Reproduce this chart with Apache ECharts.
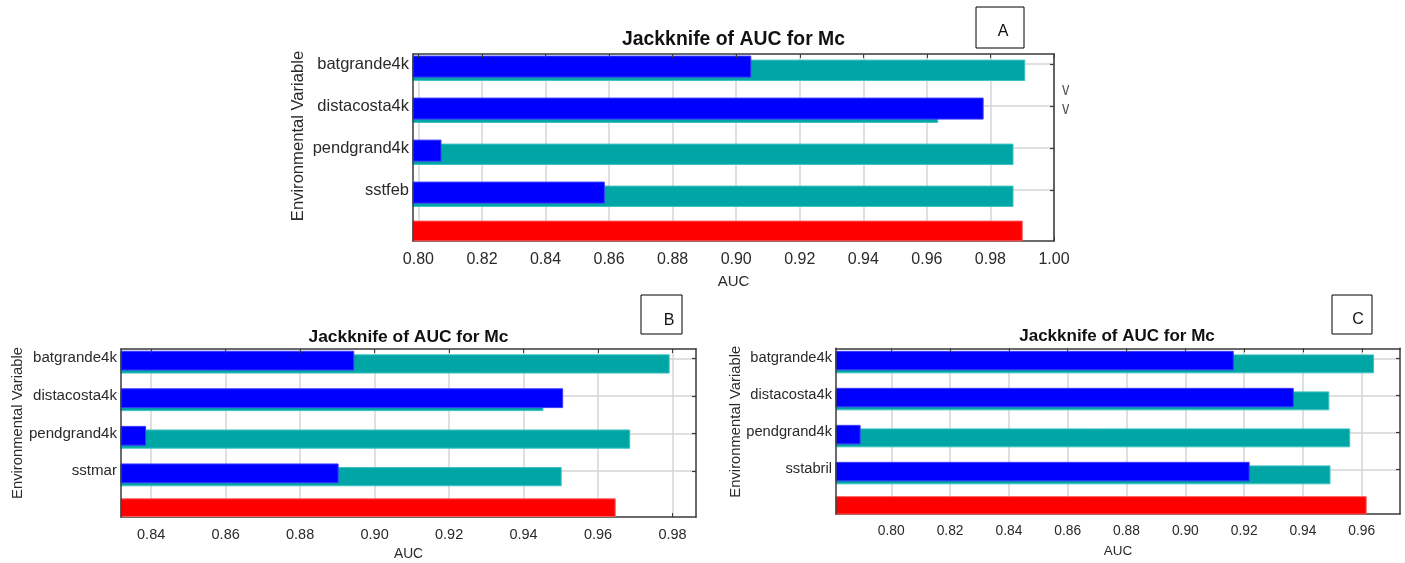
<!DOCTYPE html>
<html>
<head>
<meta charset="utf-8">
<title>Jackknife of AUC for Mc</title>
<script src="https://cdn.jsdelivr.net/npm/echarts@6/dist/echarts.min.js"></script>
<style>
  html, body { margin: 0; padding: 0; background: #ffffff; }
  #chart { width: 1405px; height: 563px; }
</style>
</head>
<body>
<div id="chart"></div>
<script>
// Jackknife of AUC for three MaxEnt runs (panels A, B, C).
// "without" = model built without the variable, "withOnly" = model with only that variable,
// "withAll" = model with all variables.

const variablesA = ['batgrande4k', 'distacosta4k', 'pendgrand4k', 'sstfeb'];
const withoutVarA = [0.9908, 0.9634, 0.9871, 0.9871];
const withOnlyVarA = [0.9046, 0.9777, 0.8071, 0.8585];
const withAllA = 0.9900;
const ticksA = [0.80, 0.82, 0.84, 0.86, 0.88, 0.90, 0.92, 0.94, 0.96, 0.98, 1.00];

const variablesB = ['batgrande4k', 'distacosta4k', 'pendgrand4k', 'sstmar'];
const withoutVarB = [0.9791, 0.9452, 0.9685, 0.9501];
const withOnlyVarB = [0.8944, 0.9505, 0.8385, 0.8902];
const withAllB = 0.9646;
const ticksB = [0.84, 0.86, 0.88, 0.90, 0.92, 0.94, 0.96, 0.98];

const variablesC = ['batgrande4k', 'distacosta4k', 'pendgrand4k', 'sstabril'];
const withoutVarC = [0.9640, 0.9488, 0.9559, 0.9492];
const withOnlyVarC = [0.9163, 0.9367, 0.7894, 0.9217];
const withAllC = 0.9615;
const ticksC = [0.80, 0.82, 0.84, 0.86, 0.88, 0.90, 0.92, 0.94, 0.96];

const TITLE = 'Jackknife of AUC for Mc';
const X_NAME = 'AUC';
const Y_NAME = 'Environmental Variable';

// Panel placement and typography
const layoutA = {
  frame: { left: 413, top: 54, width: 641, height: 187 },
  rows: { top: 64, height: 168 },
  xRange: [0.7983, 1.0],
  font: { tick: 16, name: 15, cat: 16.5, title: 19.4, yName: 16.6 },
  titlePos: [733.5, 40], yNamePos: [298, 136],
  labelPad: 10, tickMargin: 11, nameGap: 33,
  box: { x: 976, y: 7, w: 48, h: 41, text: 'A', tx: 1003, ty: 32 }
};
const layoutB = {
  frame: { left: 121, top: 349, width: 575, height: 168 },
  rows: { top: 358.3, height: 150.3 },
  xRange: [0.8319, 0.9863],
  font: { tick: 14.5, name: 13.8, cat: 15.1, title: 17.4, yName: 14.8 },
  titlePos: [408.5, 337], yNamePos: [17.5, 423],
  labelPad: 9, tickMargin: 10, nameGap: 30,
  box: { x: 641, y: 295, w: 41, h: 39, text: 'B', tx: 669, ty: 321 }
};
const layoutC = {
  frame: { left: 836, top: 348.3, width: 564, height: 165.7 },
  rows: { top: 358.3, height: 148 },
  xRange: [0.7812, 0.9730],
  font: { tick: 13.8, name: 13.5, cat: 14.7, title: 17, yName: 14.8 },
  titlePos: [1117, 336.5], yNamePos: [736, 421.7],
  labelPad: 9, tickMargin: 10.5, nameGap: 30,
  box: { x: 1332, y: 295, w: 40, h: 39, text: 'C', tx: 1358, ty: 320 }
};

const panels = [
  { variables: variablesA, without: withoutVarA, only: withOnlyVarA, all: withAllA, ticks: ticksA, layout: layoutA },
  { variables: variablesB, without: withoutVarB, only: withOnlyVarB, all: withAllB, ticks: ticksB, layout: layoutB },
  { variables: variablesC, without: withoutVarC, only: withOnlyVarC, all: withAllC, ticks: ticksC, layout: layoutC }
];

const FONT = "'Liberation Sans', Arial, sans-serif";
const FRAME_COLOR = '#3a3a3a';
const GRID_COLOR = '#d4d4d4';
const TEXT_COLOR = '#2a2a2a';

// bar styles: offset and height as fractions of the row spacing
const BAR_STYLE = {
  without: { off: 0.15, h: 0.485, fill: '#00a6a6', stroke: '#3ec2c2' },
  only:    { off: 0.062, h: 0.5, fill: '#0000ff', stroke: '#3a3aff' },
  all:     { off: -0.025, h: 0.47, fill: '#ff0000', stroke: '#ff5a5a' }
};

function barRenderer(style, base) {
  return function (params, api) {
    const cat = api.value(1);
    const p0 = api.coord([base, cat]);
    const p1 = api.coord([api.value(0), cat]);
    const band = api.size([0, 1])[1];
    const h = band * style.h;
    return {
      type: 'rect',
      shape: { x: p0[0], y: p0[1] + band * style.off - h / 2, width: p1[0] - p0[0], height: h },
      style: { fill: style.fill, stroke: style.stroke, lineWidth: 1 }
    };
  };
}

const grid = [], xAxis = [], yAxis = [], series = [], graphic = [];

panels.forEach(function (p) {
  const L = p.layout;
  const [xMin, xMax] = L.xRange;
  const n = p.variables.length;
  const categories = p.variables.concat(['']);
  const tickFmt = function (v) { return v.toFixed(2); };

  const gFrame = grid.length;
  grid.push({ left: L.frame.left, top: L.frame.top, width: L.frame.width, height: L.frame.height });
  const gRows = grid.length;
  grid.push({ left: L.frame.left, top: L.rows.top, width: L.frame.width, height: L.rows.height });

  // frame: bottom value axis with labels and vertical grid lines
  xAxis.push({
    gridIndex: gFrame, type: 'value', position: 'bottom', min: xMin, max: xMax,
    name: X_NAME, nameLocation: 'middle', nameGap: L.nameGap,
    nameTextStyle: { fontFamily: FONT, fontSize: L.font.name, color: TEXT_COLOR },
    axisLine: { show: true, onZero: false, lineStyle: { color: FRAME_COLOR, width: 1.5 } },
    axisTick: { show: true, inside: true, length: 4, customValues: p.ticks, lineStyle: { color: FRAME_COLOR } },
    axisLabel: { show: true, customValues: p.ticks, formatter: tickFmt, margin: L.tickMargin,
      fontFamily: FONT, fontSize: L.font.tick, color: TEXT_COLOR },
    splitLine: { show: true, lineStyle: { color: GRID_COLOR, width: 1.5 } }
  });
  // frame: top edge with inward ticks
  xAxis.push({
    gridIndex: gFrame, type: 'value', position: 'top', min: xMin, max: xMax, z: 5,
    axisLine: { show: true, onZero: false, lineStyle: { color: FRAME_COLOR, width: 1.5 } },
    axisTick: { show: true, inside: true, length: 4, customValues: p.ticks, lineStyle: { color: FRAME_COLOR } },
    axisLabel: { show: false }, splitLine: { show: false }
  });
  // rows: hidden value axis carrying the bars
  const xRowsIdx = xAxis.length;
  xAxis.push({ gridIndex: gRows, type: 'value', min: xMin, max: xMax, show: false });

  // frame: left and right edges
  ['left', 'right'].forEach(function (pos) {
    yAxis.push({
      gridIndex: gFrame, type: 'value', position: pos, min: 0, max: 1, z: 5,
      axisLine: { show: true, onZero: false, lineStyle: { color: FRAME_COLOR, width: 1.5 } },
      axisTick: { show: false }, axisLabel: { show: false }, splitLine: { show: false }
    });
  });
  // rows: category axis with variable names and horizontal grid lines
  const yRowsIdx = yAxis.length;
  yAxis.push({
    gridIndex: gRows, type: 'category', data: categories, inverse: true, boundaryGap: false,
    axisLine: { show: false }, axisTick: { show: false },
    axisLabel: { show: true, margin: 4, padding: [L.labelPad, 0, 0, 0],
      fontFamily: FONT, fontSize: L.font.cat, color: TEXT_COLOR },
    splitLine: { show: true, interval: function (i) { return i < n; },
      lineStyle: { color: GRID_COLOR, width: 1.5 } }
  });
  // rows: inward ticks on the right edge
  yAxis.push({
    gridIndex: gRows, type: 'category', data: categories, inverse: true, boundaryGap: false,
    position: 'right', z: 5,
    axisLine: { show: false },
    axisTick: { show: true, inside: true, length: 4, interval: function (i) { return i < n; },
      lineStyle: { color: FRAME_COLOR, width: 1.2 } },
    axisLabel: { show: false }, splitLine: { show: false }
  });

  series.push({
    type: 'custom', name: 'Without variable', xAxisIndex: xRowsIdx, yAxisIndex: yRowsIdx,
    clip: false, encode: { x: 0, y: 1 },
    renderItem: barRenderer(BAR_STYLE.without, xMin),
    data: p.without.map(function (v, i) { return [v, i]; })
  });
  series.push({
    type: 'custom', name: 'With only variable', xAxisIndex: xRowsIdx, yAxisIndex: yRowsIdx,
    clip: false, encode: { x: 0, y: 1 },
    renderItem: barRenderer(BAR_STYLE.only, xMin),
    data: p.only.map(function (v, i) { return [v, i]; })
  });
  series.push({
    type: 'custom', name: 'With all variables', xAxisIndex: xRowsIdx, yAxisIndex: yRowsIdx,
    clip: false, encode: { x: 0, y: 1 },
    renderItem: barRenderer(BAR_STYLE.all, xMin),
    data: [[p.all, n]]
  });

  // panel title, vertical axis name and panel letter box
  graphic.push({
    type: 'text', x: L.titlePos[0], y: L.titlePos[1],
    style: { text: TITLE, align: 'center', verticalAlign: 'middle',
      font: 'bold ' + L.font.title + 'px ' + FONT, fill: '#111111' }
  });
  graphic.push({
    type: 'text', x: L.yNamePos[0], y: L.yNamePos[1], rotation: Math.PI / 2,
    style: { text: Y_NAME, align: 'center', verticalAlign: 'middle',
      font: L.font.yName + 'px ' + FONT, fill: TEXT_COLOR }
  });
  graphic.push({
    type: 'rect', shape: { x: L.box.x, y: L.box.y, width: L.box.w, height: L.box.h },
    style: { fill: '#ffffff', stroke: '#000000', lineWidth: 1 }
  });
  graphic.push({
    type: 'text', x: L.box.tx, y: L.box.ty,
    style: { text: L.box.text, align: 'center', verticalAlign: 'middle',
      font: '16px ' + FONT, fill: '#111111' }
  });
});

// legend entries of panel A that run off the right of the panel
graphic.push({
  type: 'text', x: 1062, y: 91,
  style: { text: 'Without variable', align: 'left', verticalAlign: 'middle', font: '14px ' + FONT, fill: '#555555' }
});
graphic.push({
  type: 'text', x: 1062, y: 110,
  style: { text: 'With only variable', align: 'left', verticalAlign: 'middle', font: '14px ' + FONT, fill: '#555555' }
});
graphic.push({
  type: 'rect', shape: { x: 1069, y: 78, width: 336, height: 45 },
  style: { fill: '#ffffff' }
});

const chart = echarts.init(document.getElementById('chart'), null, { renderer: 'canvas' });
chart.setOption({
  backgroundColor: '#ffffff',
  animation: false,
  textStyle: { fontFamily: FONT },
  grid: grid,
  xAxis: xAxis,
  yAxis: yAxis,
  series: series,
  graphic: graphic
});
</script>
</body>
</html>
